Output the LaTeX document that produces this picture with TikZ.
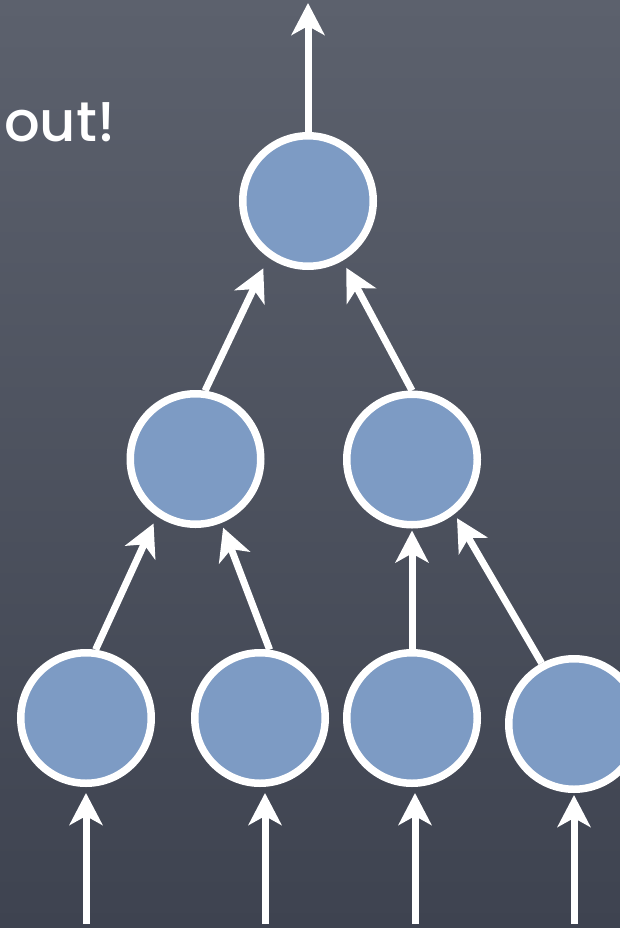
\documentclass[tikz,border=0pt]{standalone}
\usepackage{fontspec}
\setmainfont{Poppins}
\newfontfamily\chalk{Poppins Medium}
\usetikzlibrary{arrows.meta}
\definecolor{bgtop}{HTML}{5C616D}
\definecolor{bgbot}{HTML}{3E4350}
\definecolor{ballfill}{HTML}{7D9BC4}
\tikzset{
  ball/.style={circle, draw=white, line width=7.5pt, fill=ballfill, minimum size=130.5pt, inner sep=0pt},
  arr/.style={draw=white, line width=7pt, -{Stealth[length=32pt,width=33pt,inset=9pt]}},
  lbl/.style={text=white, font=\chalk\fontsize{56}{60}\selectfont, inner sep=0pt}
}
\begin{document}
\begin{tikzpicture}[x=1pt,y=-1pt]
\useasboundingbox (0,0) rectangle (620,928);
\shade[top color=bgtop, bottom color=bgbot] (0,0) rectangle (620,928);
\node[lbl, anchor=base west] (title) at (4,142) {out!};
\node[ball] (top) at (308,201) {};
\node[ball] (m1) at (195.5,459) {};
\node[ball] (m2) at (412,459.5) {};
\node[ball] (b1) at (86,718) {};
\node[ball] (b2) at (260,718) {};
\node[ball] (b3) at (412,718) {};
\node[ball] (b4) at (574,724) {};
\coordinate (out) at (308,3);
\coordinate (in1) at (86,924);
\coordinate (in2) at (265,924);
\coordinate (in3) at (415,924);
\coordinate (in4) at (574,924);
\draw[arr] (top.north) -- (out);
\draw[arr, shorten >=8pt] (b1.82) -- (m1.236);
\draw[arr, shorten >=5pt] (b2.82) -- (m1.292);
\draw[arr, shorten >=2pt] (b3.north) -- (m2.south);
\draw[arr, shorten >=5pt] (b4.118) -- (m2.308);
\draw[arr, shorten >=12pt] (m1.82) -- (top.235.5);
\draw[arr, shorten >=8pt] (m2.north) -- (top.300);
\draw[arr, shorten >=6pt] (in1) -- (in1 |- b1.south);
\draw[arr, shorten >=6pt] (in2) -- (in2 |- b2.south);
\draw[arr, shorten >=6pt] (in3) -- (in3 |- b3.south);
\draw[arr, shorten >=2pt] (in4) -- (in4 |- b4.south);
\end{tikzpicture}
\end{document}
